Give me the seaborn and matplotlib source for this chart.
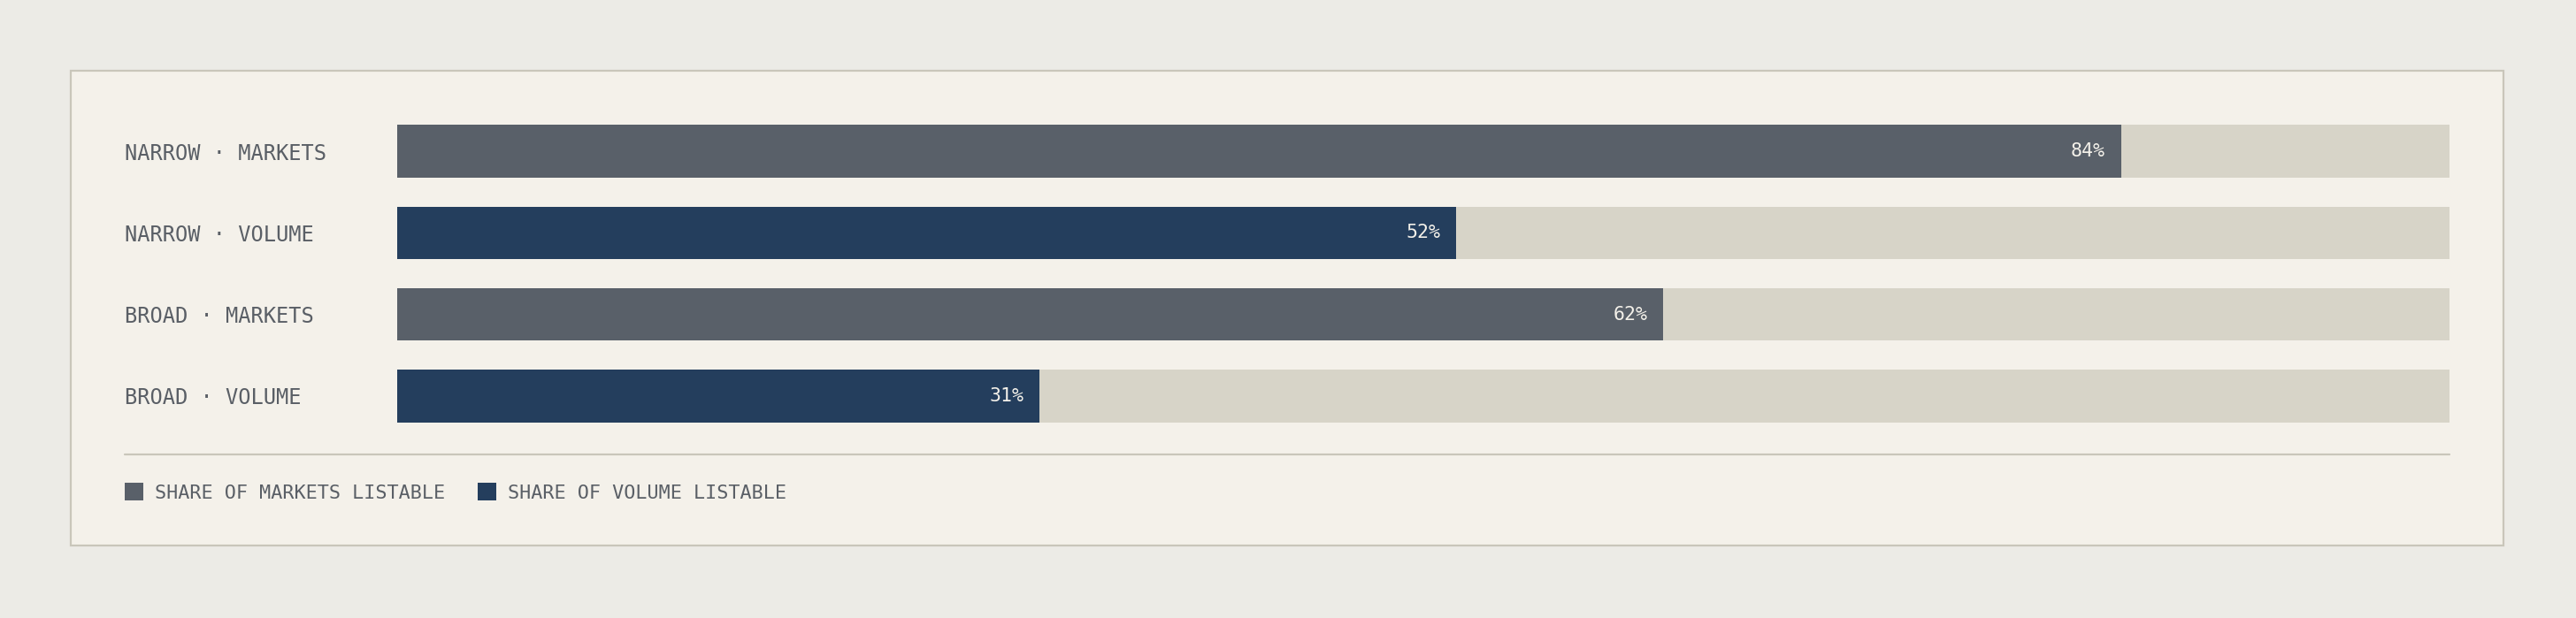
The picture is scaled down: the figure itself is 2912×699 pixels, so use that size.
import matplotlib
matplotlib.use("Agg")
import matplotlib.pyplot as plt
import seaborn as sns
import pandas as pd
from matplotlib.patches import Rectangle, Patch
from matplotlib.lines import Line2D

# ---- data ----
categories = ["NARROW · MARKETS", "NARROW · VOLUME", "BROAD · MARKETS", "BROAD · VOLUME"]
values = [84.0, 51.6, 61.7, 31.3]
series = ["SHARE OF MARKETS LISTABLE", "SHARE OF VOLUME LISTABLE",
          "SHARE OF MARKETS LISTABLE", "SHARE OF VOLUME LISTABLE"]
series_order = ["SHARE OF MARKETS LISTABLE", "SHARE OF VOLUME LISTABLE"]
track_max = [100, 100, 100, 100]

# ---- style ----
FIG_BG = "#ECEBE6"
PANEL_BG = "#F4F1EA"
BORDER = "#C9C6BA"
TRACK = "#D7D4C8"
TEXT = "#5A5F66"
colors = {"SHARE OF MARKETS LISTABLE": "#596069", "SHARE OF VOLUME LISTABLE": "#243E5D"}
FONT = ["DejaVu Sans Mono"]

sns.set_theme(style="white")
plt.rcParams["font.family"] = FONT

W, H = 2912, 699
fig = plt.figure(figsize=(W / 100, H / 100), dpi=100, facecolor=FIG_BG)

# panel
panel = Rectangle((80 / W, (H - 617) / H), 2750 / W, 537 / H, transform=fig.transFigure,
                  facecolor=PANEL_BG, edgecolor=BORDER, linewidth=1.6, zorder=-5)
fig.patches.append(panel)

ax_l, ax_r = 449 / W, 2769 / W
ax_top, ax_bot = (H - 125) / H, (H - 494) / H
ax = fig.add_axes([ax_l, ax_bot, ax_r - ax_l, ax_top - ax_bot])
ax.set_facecolor("none")
ax.set_zorder(1)

df = pd.DataFrame({"label": categories, "value": values, "series": series, "track": track_max})

sns.barplot(data=df, x="track", y="label", order=categories, color=TRACK,
            width=0.645, ax=ax, saturation=1, orient="h", linewidth=0, edgecolor="none")
sns.barplot(data=df, x="value", y="label", order=categories, hue="series",
            hue_order=series_order, palette=colors, dodge=False,
            width=0.645, ax=ax, saturation=1, orient="h", legend=False,
            linewidth=0, edgecolor="none")

for i, v in enumerate(values):
    ax.annotate(f"{round(v)}%", xy=(v, i), xytext=(-13, 0), textcoords="offset points",
                ha="right", va="center", color=PANEL_BG, fontsize=15.5, family=FONT)

ax.set_xlim(0, 100)
ax.set_ylim(3.5, -0.5)
for s in ax.spines.values():
    s.set_visible(False)
ax.set_xticks([])
ax.set_xlabel("")
ax.set_ylabel("")
ax.tick_params(axis="y", length=0, pad=(449 - 141) * 0.72, labelsize=17, labelcolor=TEXT)
for lab in ax.get_yticklabels():
    lab.set_horizontalalignment("left")
    lab.set_family(FONT)

# separator
fig.add_artist(Line2D([141 / W, 2769 / W], [(H - 514) / H] * 2, transform=fig.transFigure,
                      color=BORDER, linewidth=1.6))

# legend
handles = [Patch(facecolor=colors[s], edgecolor="none", label=s) for s in series_order]
fig.legend(handles=handles, loc="center left", bbox_to_anchor=(141 / W, (H - 557) / H),
           ncol=2, frameon=False, handlelength=0.97, handleheight=0.97,
           handletextpad=0.58, columnspacing=1.7, borderpad=0, borderaxespad=0,
           labelcolor=TEXT, prop={"family": FONT, "size": 15.7})

fig.savefig("out.png", dpi=100, facecolor=FIG_BG)
